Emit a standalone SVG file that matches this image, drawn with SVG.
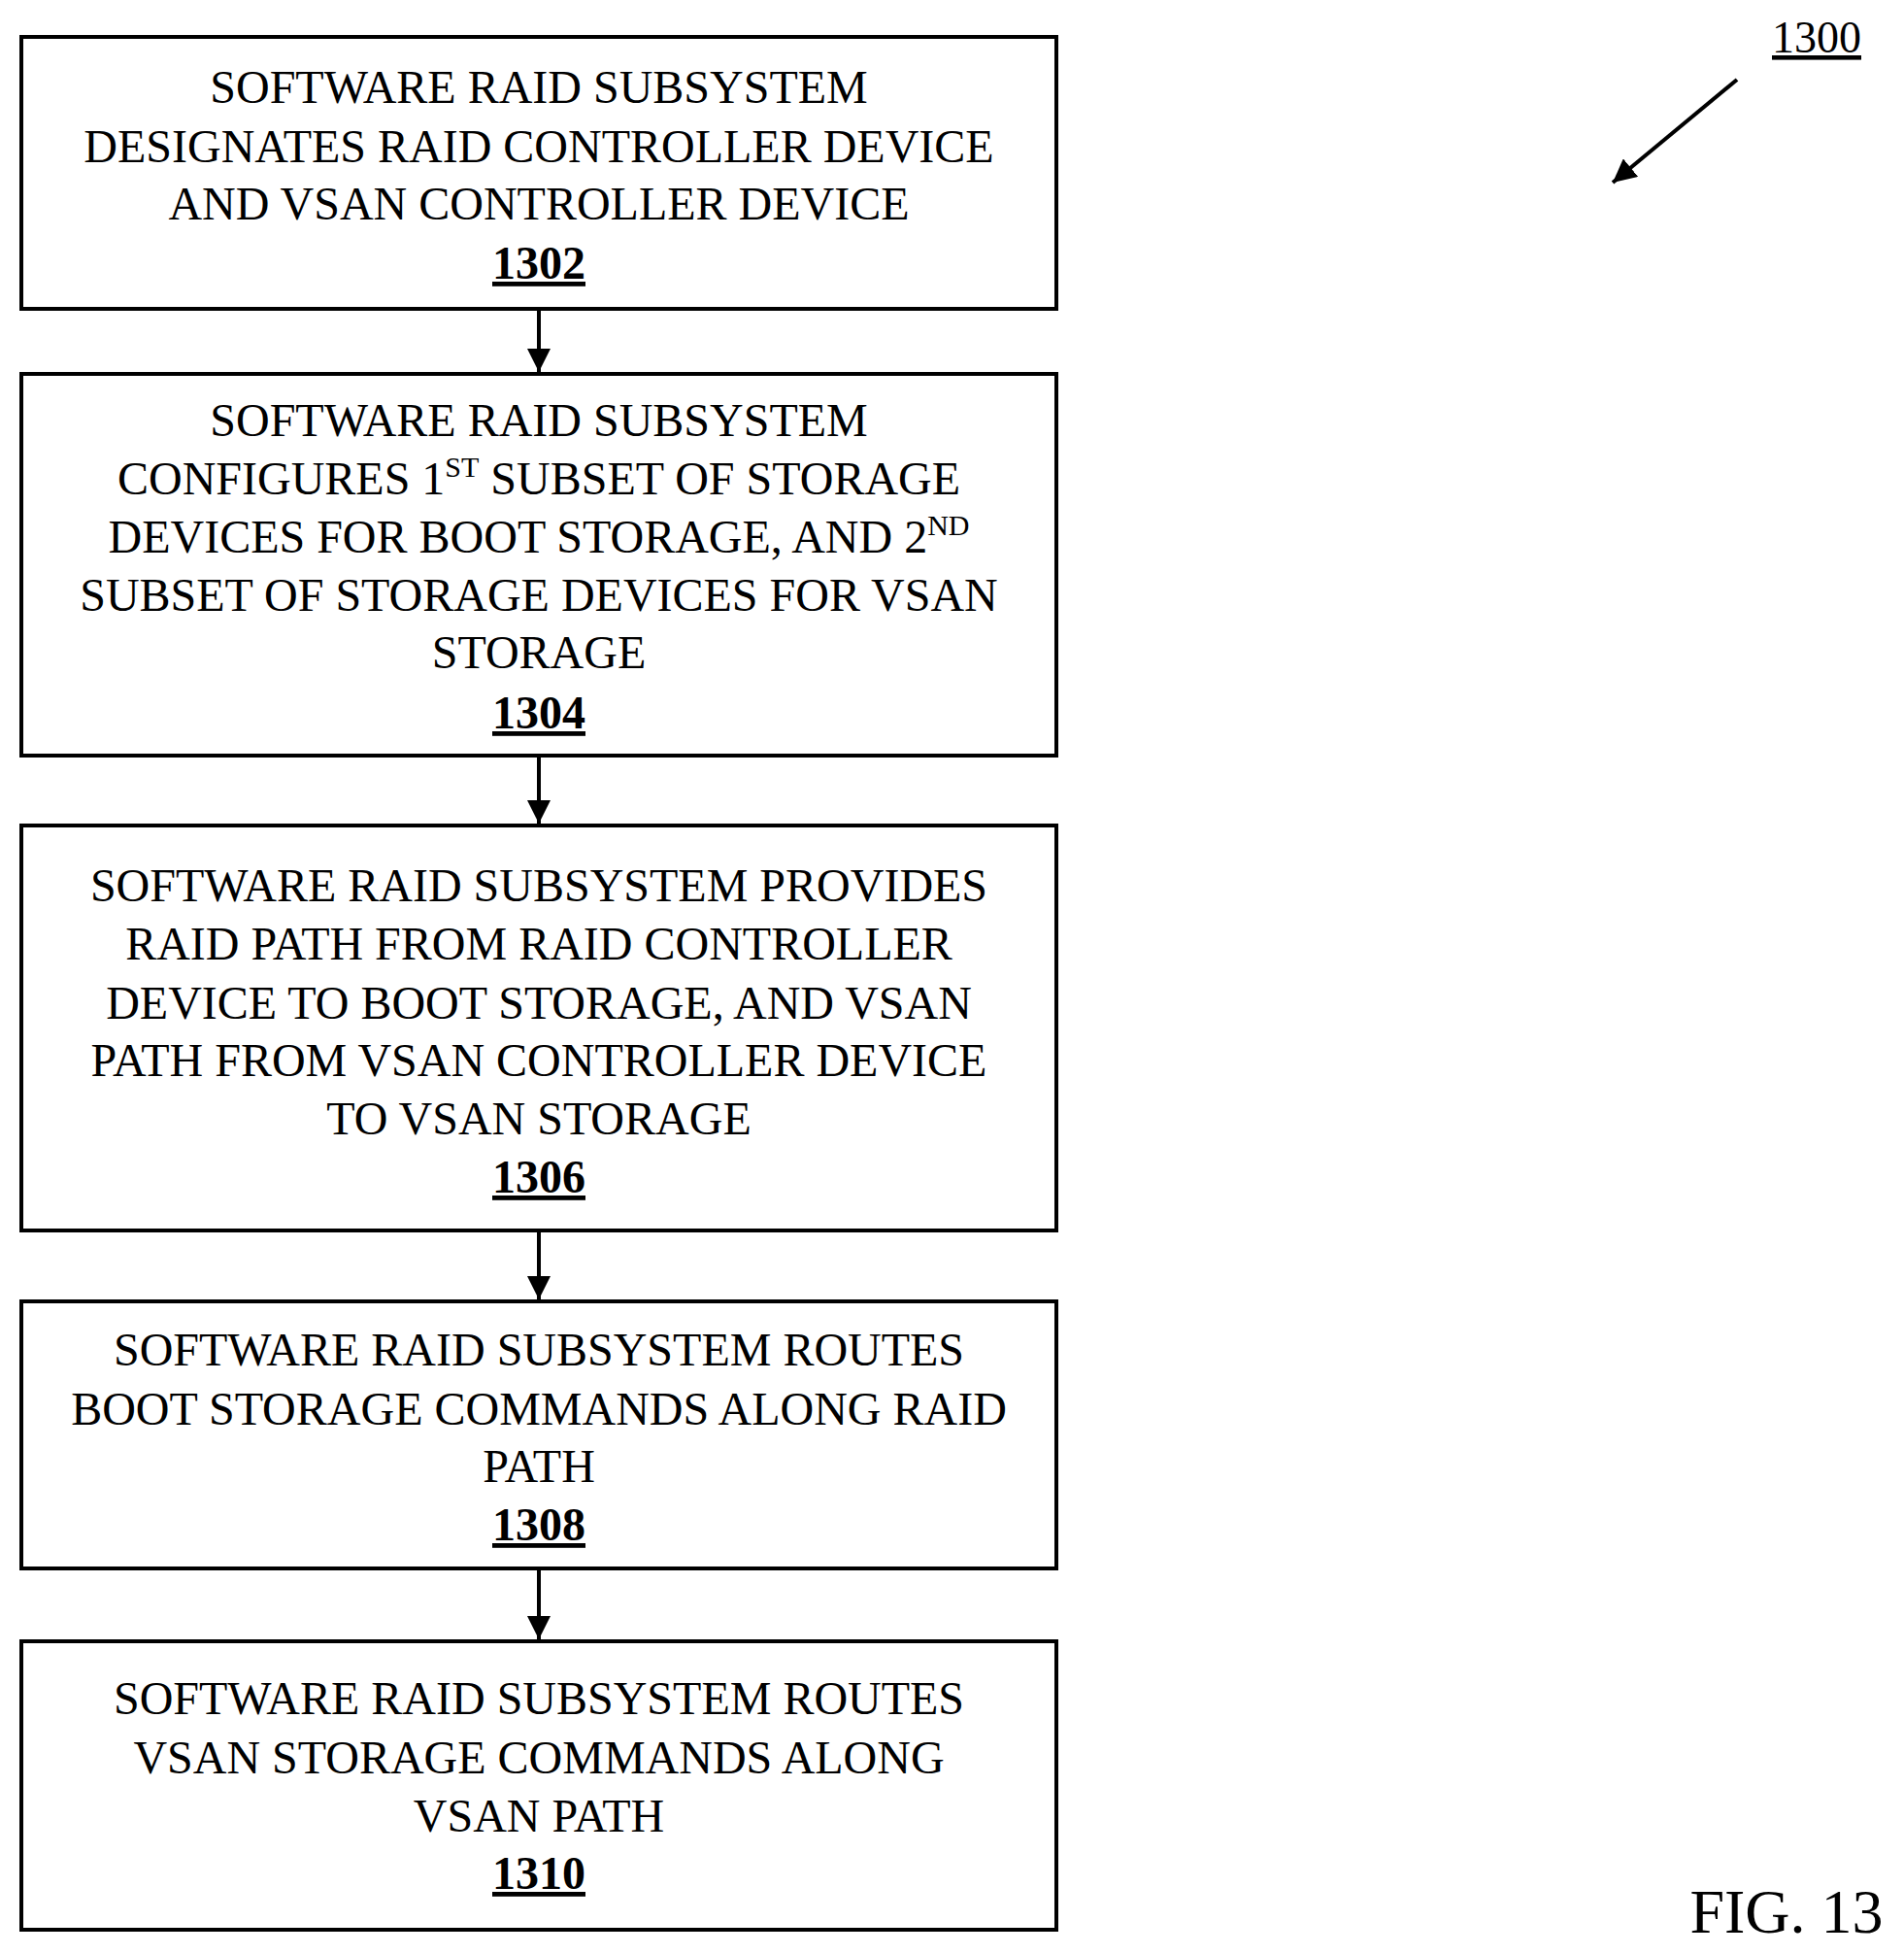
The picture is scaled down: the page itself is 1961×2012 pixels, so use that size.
<svg xmlns="http://www.w3.org/2000/svg" width="1961" height="2012" viewBox="0 0 1961 2012">
<style>
.box{fill:#fff;stroke:#000;stroke-width:4}
.t{font-family:"Liberation Serif","Times New Roman",serif;font-size:48px;text-anchor:middle;fill:#000}
.n{font-weight:bold;text-decoration:underline}
.c{stroke:#000;stroke-width:4;fill:none}
</style>
<defs>
<marker id="ah" markerUnits="userSpaceOnUse" markerWidth="24" markerHeight="24" refX="24" refY="12" orient="auto">
<path d="M0,0 L24,12 L0,24 Z" fill="#000"/>
</marker>
</defs>
<rect width="1961" height="2012" fill="#fff"/>
<g id="connectors">
<line class="c" x1="555" y1="318" x2="555" y2="383" marker-end="url(#ah)"/>
<line class="c" x1="555" y1="778" x2="555" y2="848" marker-end="url(#ah)"/>
<line class="c" x1="555" y1="1267" x2="555" y2="1338" marker-end="url(#ah)"/>
<line class="c" x1="555" y1="1615" x2="555" y2="1688" marker-end="url(#ah)"/>
<line class="c" x1="1789" y1="82" x2="1661" y2="188" marker-end="url(#ah)"/>
</g>
<g id="n1302">
<rect class="box" x="22" y="38" width="1066" height="280"/>
<text class="t" x="555" y="106">SOFTWARE RAID SUBSYSTEM</text>
<text class="t" x="555" y="167">DESIGNATES RAID CONTROLLER DEVICE</text>
<text class="t" x="555" y="226">AND VSAN CONTROLLER DEVICE</text>
<text class="t n" x="555" y="287">1302</text>
</g>
<g id="n1304">
<rect class="box" x="22" y="385" width="1066" height="393"/>
<text class="t" x="555" y="449">SOFTWARE RAID SUBSYSTEM</text>
<text class="t" x="555" y="509">CONFIGURES 1<tspan font-size="30" dy="-18">ST</tspan><tspan dy="18"> SUBSET OF STORAGE</tspan></text>
<text class="t" x="555" y="569">DEVICES FOR BOOT STORAGE, AND 2<tspan font-size="30" dy="-18">ND</tspan></text>
<text class="t" x="555" y="629">SUBSET OF STORAGE DEVICES FOR VSAN</text>
<text class="t" x="555" y="688">STORAGE</text>
<text class="t n" x="555" y="750">1304</text>
</g>
<g id="n1306">
<rect class="box" x="22" y="850" width="1066" height="417"/>
<text class="t" x="555" y="928">SOFTWARE RAID SUBSYSTEM PROVIDES</text>
<text class="t" x="555" y="988">RAID PATH FROM RAID CONTROLLER</text>
<text class="t" x="555" y="1049">DEVICE TO BOOT STORAGE, AND VSAN</text>
<text class="t" x="555" y="1108">PATH FROM VSAN CONTROLLER DEVICE</text>
<text class="t" x="555" y="1168">TO VSAN STORAGE</text>
<text class="t n" x="555" y="1228">1306</text>
</g>
<g id="n1308">
<rect class="box" x="22" y="1340" width="1066" height="275"/>
<text class="t" x="555" y="1406">SOFTWARE RAID SUBSYSTEM ROUTES</text>
<text class="t" x="555" y="1467">BOOT STORAGE COMMANDS ALONG RAID</text>
<text class="t" x="555" y="1526">PATH</text>
<text class="t n" x="555" y="1586">1308</text>
</g>
<g id="n1310">
<rect class="box" x="22" y="1690" width="1066" height="297"/>
<text class="t" x="555" y="1765">SOFTWARE RAID SUBSYSTEM ROUTES</text>
<text class="t" x="555" y="1826">VSAN STORAGE COMMANDS ALONG</text>
<text class="t" x="555" y="1886">VSAN PATH</text>
<text class="t n" x="555" y="1945">1310</text>
</g>
<g id="labels">
<text x="1871" y="54" font-family="Liberation Serif, serif" font-size="46" text-anchor="middle" text-decoration="underline">1300</text>
<text x="1840" y="1990" font-family="Liberation Serif, serif" font-size="64" text-anchor="middle">FIG. 13</text>
</g>
</svg>
